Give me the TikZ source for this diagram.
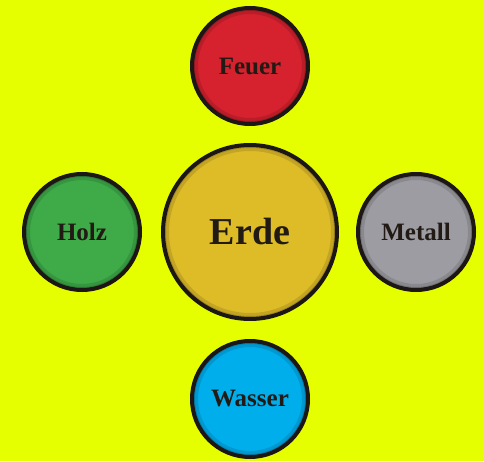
\documentclass[tikz,border=0pt]{standalone}
\usepackage{fontspec}
\setmainfont{Liberation Serif}
\usepackage{tikz}
\usetikzlibrary{positioning}
\definecolor{bgyellow}{RGB}{230,255,0}
\definecolor{rim}{RGB}{28,22,20}
\definecolor{ink}{RGB}{34,26,20}
\definecolor{firered}{RGB}{214,34,46}
\definecolor{earthgold}{RGB}{222,188,40}
\definecolor{woodgreen}{RGB}{62,170,72}
\definecolor{metalgrey}{RGB}{156,156,162}
\definecolor{waterblue}{RGB}{0,174,236}
\tikzset{
  element/.style={circle, draw=rim, line width=4pt, inner sep=0pt,
                  minimum size=116pt, text=ink,
                  font=\bfseries\fontsize{25}{25}\selectfont,
                  path picture={\draw[black, opacity=.12, line width=12pt]
                    (path picture bounding box.center) circle (58pt);
                    \draw[black, opacity=.15, line width=6pt]
                    (path picture bounding box.center) circle (58pt);}},
  centre/.style={element, minimum size=174pt,
                 font=\bfseries\fontsize{38}{38}\selectfont,
                 path picture={\draw[black, opacity=.12, line width=12pt]
                    (path picture bounding box.center) circle (87pt);
                    \draw[black, opacity=.15, line width=6pt]
                    (path picture bounding box.center) circle (87pt);}},
}

\begin{document}
\begin{tikzpicture}[x=1pt, y=1pt]
  \fill[bgyellow] (0,0) rectangle (484,461);
  \useasboundingbox (0,0) rectangle (484,461);

  \node[centre, fill=earthgold] (erde) at (250,229) {Erde};

  \node[element, fill=firered, above=17pt of erde] (feuer) {Feuer};
  \node[element, fill=woodgreen, left=19pt of erde] (holz) {Holz};
  \node[element, fill=metalgrey, right=17pt of erde] (metall) {Metall};
  \node[element, fill=waterblue, below=18pt of erde] (wasser) {Wasser};
\end{tikzpicture}
\end{document}
